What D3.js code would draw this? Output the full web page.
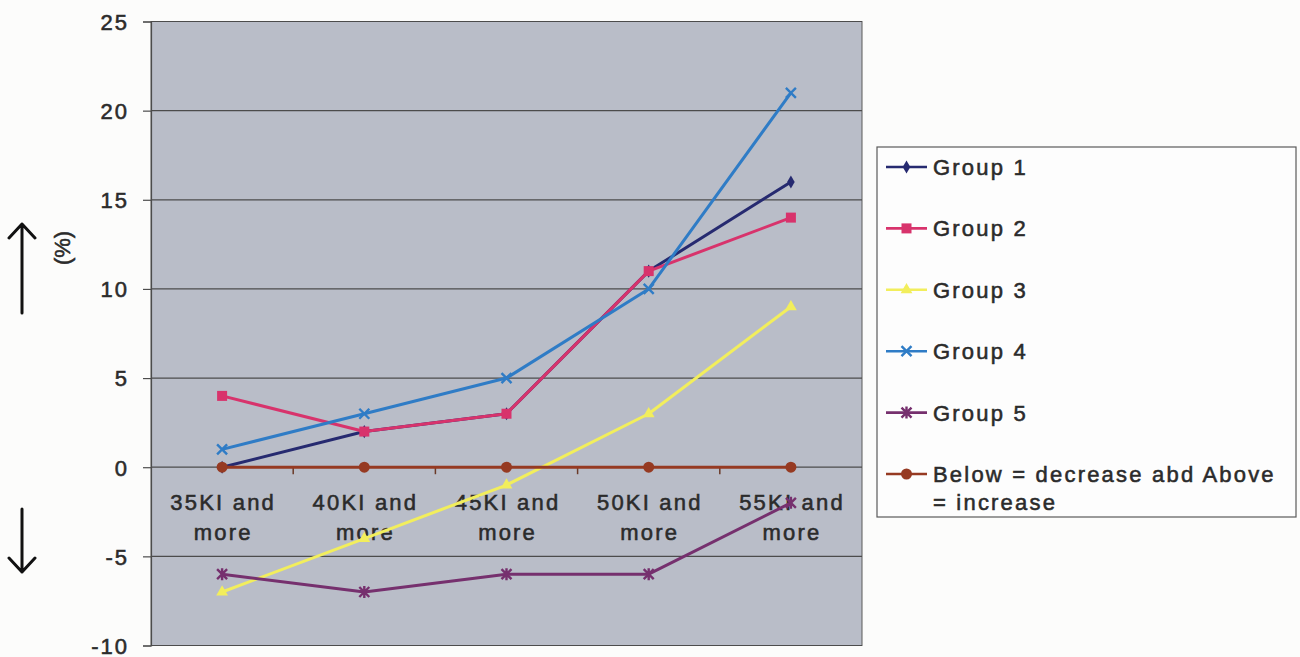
<!DOCTYPE html>
<html>
<head>
<meta charset="utf-8">
<script src="https://cdn.jsdelivr.net/npm/d3@7"></script>
<style>
  html, body { margin: 0; padding: 0; background: #fcfcfb; }
  svg { display: block; }
  text { font-family: "Liberation Sans", Arial, sans-serif; fill: #2b2b2b; stroke: #2b2b2b; stroke-width: 0.55px; }
</style>
</head>
<body>
<svg id="chart" width="1300" height="657"></svg>
<script>
// Income thresholds along the x axis
const categories = ["35KI and more", "40KI and more", "45KI and more", "50KI and more", "55KI and more"];
const categoryLines = [["35KI and", "more"], ["40KI and", "more"], ["45KI and", "more"], ["50KI and", "more"], ["55KI and", "more"]];

// Percentage change per group
const group1 = [0, 2, 3, 11, 16];
const group2 = [4, 2, 3, 11, 14];
const group3 = [-7, -4, -1, 3, 9];
const group4 = [1, 3, 5, 10, 21];
const group5 = [-6, -7, -6, -6, -2];
const baseline = [0, 0, 0, 0, 0];

const seriesNames = ["Group 1", "Group 2", "Group 3", "Group 4", "Group 5", "Below = decrease abd Above = increase"];
const yTicks = [-10, -5, 0, 5, 10, 15, 20, 25];

const series = [
  { name: seriesNames[0], values: group1, color: "#262a70", marker: "diamond" },
  { name: seriesNames[1], values: group2, color: "#d8336c", marker: "square" },
  { name: seriesNames[2], values: group3, color: "#f2ee5c", marker: "triangle" },
  { name: seriesNames[3], values: group4, color: "#2f7cc6", marker: "x" },
  { name: seriesNames[4], values: group5, color: "#76306e", marker: "star" },
  { name: seriesNames[5], values: baseline, color: "#963a22", marker: "circle" }
];

const svg = d3.select("#chart");
const plot = { left: 151, right: 862, top: 21.5, bottom: 645.5 };

const x = d3.scaleBand().domain(categories).range([plot.left, plot.right]).padding(0);
const y = d3.scaleLinear().domain([-10, 25]).range([plot.bottom, plot.top]);
const cx = c => x(c) + x.bandwidth() / 2;

// Plot area
svg.append("rect")
  .attr("x", plot.left).attr("y", plot.top)
  .attr("width", plot.right - plot.left).attr("height", plot.bottom - plot.top)
  .attr("fill", "#b9bdc8").attr("stroke", "#5a5a5a").attr("stroke-width", 1);

// Gridlines
svg.append("g").selectAll("line").data(yTicks).join("line")
  .attr("x1", plot.left).attr("x2", plot.right)
  .attr("y1", d => y(d)).attr("y2", d => y(d))
  .attr("stroke", "#4c4c4c").attr("stroke-width", 1.2);

// Y axis
const yAxis = d3.axisLeft(y).tickValues(yTicks).tickSize(8).tickPadding(14).tickFormat(d => String(d));
const yg = svg.append("g").attr("transform", `translate(${plot.left},0)`).call(yAxis);
yg.select(".domain").attr("stroke", "#4c4c4c").attr("stroke-width", 1.2);
yg.selectAll(".tick line").attr("stroke", "#4c4c4c").attr("stroke-width", 1.2);
yg.selectAll(".tick text")
  .attr("font-size", 22).attr("letter-spacing", "2px")
  .attr("fill", "#2b2b2b").attr("dy", "0.36em");

// X axis ticks sit on the zero line, between categories
const boundaries = categories.slice(1).map(c => x(c));
svg.append("g").selectAll("line").data(boundaries).join("line")
  .attr("x1", d => d).attr("x2", d => d)
  .attr("y1", y(0)).attr("y2", y(0) + 7)
  .attr("stroke", "#6a3a28").attr("stroke-width", 1.5);

// Category labels
const xl = svg.append("g");
categories.forEach((c, i) => {
  const t = xl.append("text")
    .attr("x", cx(c)).attr("y", y(0) + 43)
    .attr("text-anchor", "middle")
    .attr("font-size", 22).attr("letter-spacing", "2.2px");
  categoryLines[i].forEach((line, j) => {
    t.append("tspan").attr("x", cx(c) + 1.1).attr("dy", j === 0 ? 0 : 30).text(line);
  });
});

// Marker shapes
function drawMarker(g, type, color, px, py) {
  if (type === "diamond") {
    g.append("path").attr("d", d3.symbol(d3.symbolDiamond, 50)())
      .attr("transform", `translate(${px},${py})`).attr("fill", color);
  } else if (type === "square") {
    g.append("rect").attr("x", px - 5).attr("y", py - 5).attr("width", 10).attr("height", 10)
      .attr("fill", color);
  } else if (type === "triangle") {
    g.append("path").attr("d", d3.symbol(d3.symbolTriangle, 60)())
      .attr("transform", `translate(${px},${py})`).attr("fill", color);
  } else if (type === "x") {
    g.append("path").attr("d", `M${px - 5},${py - 5}L${px + 5},${py + 5}M${px - 5},${py + 5}L${px + 5},${py - 5}`)
      .attr("stroke", color).attr("stroke-width", 2.4).attr("fill", "none");
  } else if (type === "star") {
    g.append("path").attr("d", `M${px - 5},${py - 5}L${px + 5},${py + 5}M${px - 5},${py + 5}L${px + 5},${py - 5}M${px},${py - 6}L${px},${py + 6}`)
      .attr("stroke", color).attr("stroke-width", 2.4).attr("fill", "none");
  } else if (type === "circle") {
    g.append("circle").attr("cx", px).attr("cy", py).attr("r", 5.5).attr("fill", color);
  }
}

// Series lines and markers
const line = d3.line().x((d, i) => cx(categories[i])).y(d => y(d));
series.forEach(s => {
  const g = svg.append("g");
  g.append("path").datum(s.values).attr("d", line)
    .attr("fill", "none").attr("stroke", s.color).attr("stroke-width", 3)
    .attr("stroke-linejoin", "round");
  s.values.forEach((v, i) => drawMarker(g, s.marker, s.color, cx(categories[i]), y(v)));
});

// Legend
const legend = svg.append("g");
legend.append("rect").attr("x", 877).attr("y", 147).attr("width", 419).attr("height", 370)
  .attr("fill", "#fdfdfd").attr("stroke", "#5a5a5a").attr("stroke-width", 1.2);
const rowY = d3.scalePoint().domain(seriesNames).range([167, 474]);
series.forEach(s => {
  const ry = rowY(s.name);
  legend.append("line").attr("x1", 886).attr("x2", 927).attr("y1", ry).attr("y2", ry)
    .attr("stroke", s.color).attr("stroke-width", 2.6);
  drawMarker(legend, s.marker, s.color, 906.5, ry);
  const t = legend.append("text").attr("x", 933).attr("y", ry + 8)
    .attr("font-size", 22).attr("letter-spacing", "2.2px");
  if (s.name.length > 20) {
    t.append("tspan").attr("x", 933).text("Below = decrease abd Above");
    t.append("tspan").attr("x", 933).attr("dy", 28).text("= increase");
  } else {
    t.text(s.name);
  }
});

// Axis title and direction arrows
svg.append("text").attr("transform", "translate(70,248) rotate(-90)")
  .attr("text-anchor", "middle").attr("font-size", 22).text("(%)");

const arrows = svg.append("g").attr("stroke", "#111").attr("stroke-width", 3)
  .attr("fill", "none").attr("stroke-linecap", "round").attr("stroke-linejoin", "round");
arrows.append("path").attr("d", "M22,313L22,224M9,238L22,224L35,238");
arrows.append("path").attr("d", "M22,509L22,572M9,558L22,572L35,558");
</script>
</body>
</html>
